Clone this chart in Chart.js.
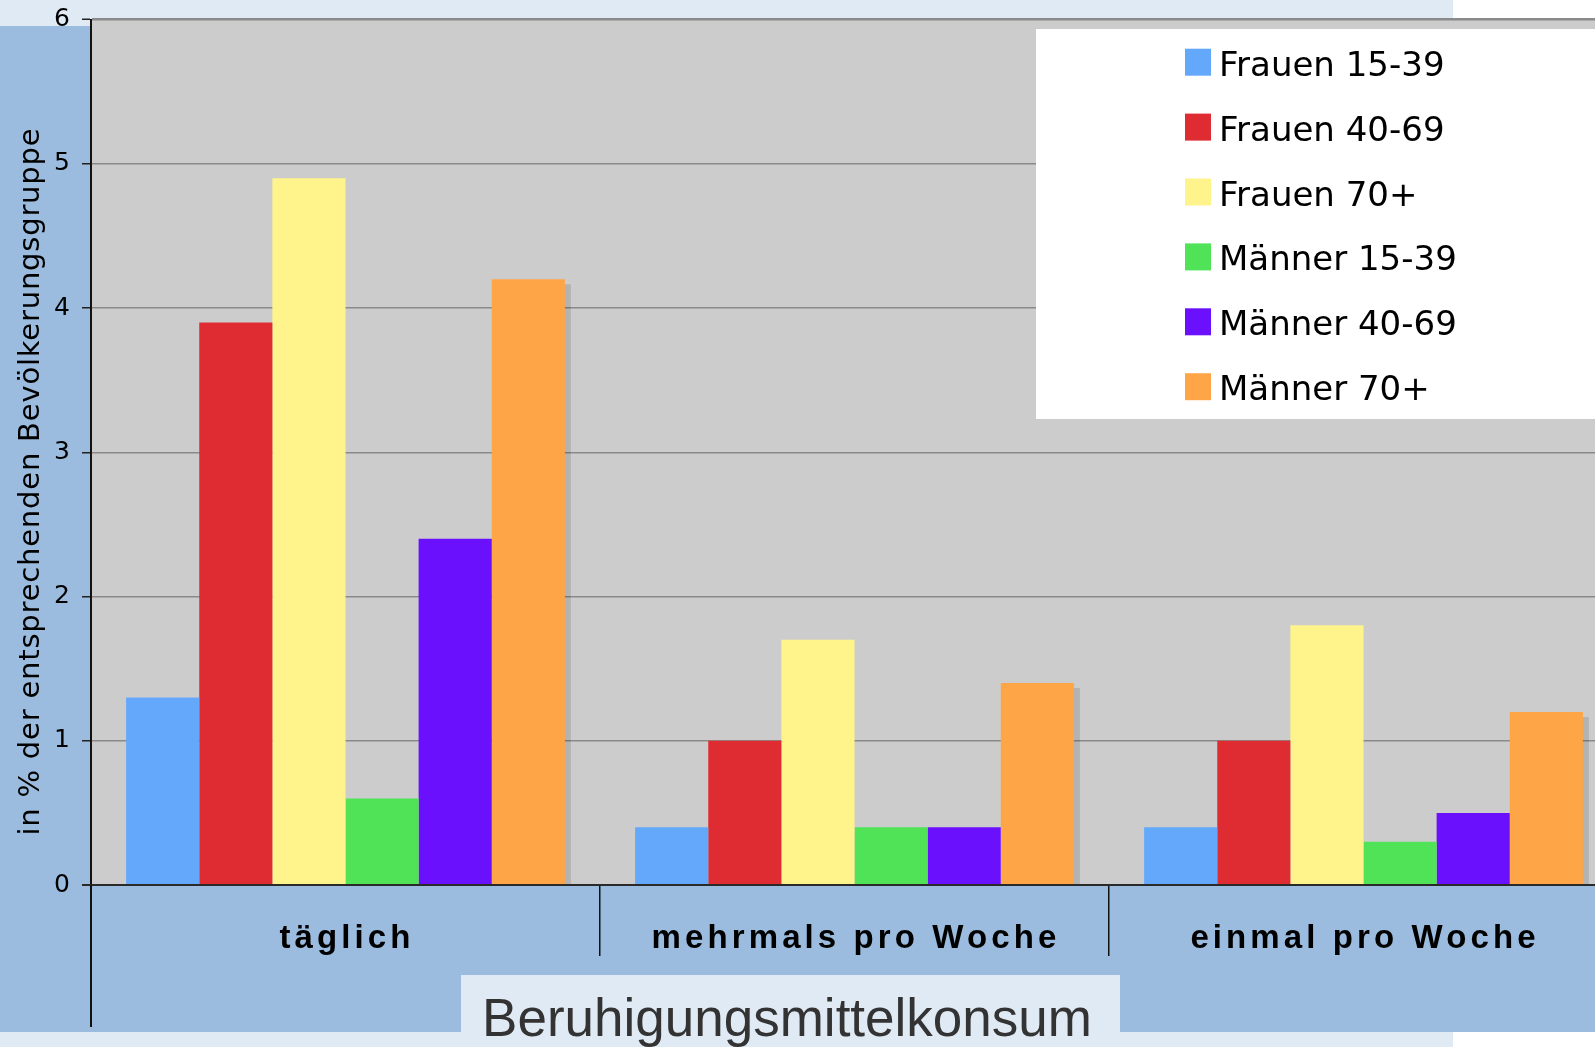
<!DOCTYPE html>
<html>
<head>
<meta charset="utf-8">
<script src="https://cdn.jsdelivr.net/npm/chart.js@4.4.1/dist/chart.umd.min.js"></script>
<style>
html, body { margin: 0; padding: 0; overflow: hidden; background: #fff; }
#wrap { width: 1595px; height: 1047px; overflow: hidden; position: relative; }
canvas { display: block; }
</style>
</head>
<body>
<div id="wrap"><canvas id="chart" width="1626" height="1047"></canvas></div>
<script>
var categories = ['täglich', 'mehrmals pro Woche', 'einmal pro Woche']
var seriesLabels = ['Frauen 15-39', 'Frauen 40-69', 'Frauen 70+', 'Männer 15-39', 'Männer 40-69', 'Männer 70+']
var frauen1539 = [1.3, 0.4, 0.4]
var frauen4069 = [3.9, 1.0, 1.0]
var frauen70 = [4.9, 1.7, 1.8]
var maenner1539 = [0.6, 0.4, 0.3]
var maenner4069 = [2.4, 0.4, 0.5]
var maenner70 = [4.2, 1.4, 1.2]
var yTicks = [0, 1, 2, 3, 4, 5, 6]
var yTitle = 'in % der entsprechenden Bevölkerungsgruppe'
var xTitle = 'Beruhigungsmittelkonsum'

var seriesValues = [frauen1539, frauen4069, frauen70, maenner1539, maenner4069, maenner70]
var seriesColors = ['#64a8fc', '#de2c32', '#fff38b', '#50e358', '#6b10fd', '#fea647']

var lightBg = '#e0eaf5'
var blueBg = '#9bbcde'
var plotBg = '#cccccc'

var datasets = seriesLabels.map((label, i) => ({
    label: label,
    data: seriesValues[i],
    backgroundColor: seriesColors[i],
    borderWidth: 0,
    clip: 0
}))

// backgrounds, zero line, legend box and the text around the plot
const backdrop = {
    id: 'backdrop',
    beforeDraw(chart) {
        let ctx = chart.ctx, a = chart.chartArea, w = chart.width
        ctx.save()
        ctx.fillStyle = '#fff'
        ctx.fillRect(0, 0, w, chart.height)
        ctx.fillStyle = lightBg
        ctx.fillRect(0, 0, 1453, 26)
        ctx.fillRect(0, 1032, 1453, 15)
        ctx.fillStyle = blueBg
        ctx.fillRect(0, 26, w, 1006)
        ctx.fillStyle = lightBg
        ctx.fillRect(461, 975, 659, 72)
        ctx.fillStyle = plotBg
        ctx.fillRect(a.left, a.top, a.right - a.left, a.bottom - a.top)
        ctx.restore()
    },
    beforeDatasetDraw(chart, args) {
        if (args.index !== chart.data.datasets.length - 1) return
        let ctx = chart.ctx
        ctx.save()
        ctx.shadowColor = 'rgba(0,0,0,0.12)'
        ctx.shadowOffsetX = 6
        ctx.shadowOffsetY = 5
        ctx.shadowBlur = 0
    },
    afterDatasetDraw(chart, args) {
        if (args.index !== chart.data.datasets.length - 1) return
        chart.ctx.restore()
    },
    afterDatasetsDraw(chart) {
        let ctx = chart.ctx, a = chart.chartArea
        let y0 = chart.scales.y.getPixelForValue(0)
        ctx.save()
        ctx.strokeStyle = '#2a2a2a'
        ctx.lineWidth = 2
        ctx.beginPath()
        ctx.moveTo(a.left - 9, y0)
        ctx.lineTo(a.right, y0)
        ctx.stroke()
        ctx.strokeStyle = '#111'
        ctx.beginPath()
        ctx.moveTo(a.left, a.bottom)
        ctx.lineTo(a.left, 1027)
        ctx.stroke()
        ctx.restore()
    },
    afterDraw(chart) {
        let ctx = chart.ctx, xs = chart.scales.x
        ctx.save()

        // legend
        ctx.fillStyle = '#fff'
        ctx.fillRect(1036, 29, chart.width - 1036, 390)
        ctx.font = '34px "DejaVu Sans"'
        ctx.textAlign = 'left'
        ctx.textBaseline = 'alphabetic'
        chart.data.datasets.forEach((ds, i) => {
            let base = 75.7 + i * 64.9
            ctx.fillStyle = ds.backgroundColor
            ctx.fillRect(1185, base - 27, 26, 27)
            ctx.fillStyle = '#000'
            ctx.fillText(ds.label, 1219, base)
        })

        // category labels
        ctx.font = 'bold 33px "Liberation Sans"'
        ctx.textAlign = 'center'
        ctx.fillStyle = '#000'
        if ('letterSpacing' in ctx) ctx.letterSpacing = '4.1px'
        chart.data.labels.forEach((lab, i) => {
            ctx.fillText(lab, xs.getPixelForValue(i) + 1.5, 948)
        })

        // y title
        ctx.font = '29px "DejaVu Sans"'
        if ('letterSpacing' in ctx) ctx.letterSpacing = '0.8px'
        ctx.save()
        ctx.translate(38.5, 482)
        ctx.rotate(-Math.PI / 2)
        ctx.fillText(yTitle, 0.4, 0)
        ctx.restore()

        // x title
        if ('letterSpacing' in ctx) ctx.letterSpacing = '0px'
        ctx.font = '53px "Liberation Sans"'
        ctx.fillStyle = '#333'
        ctx.fillText(xTitle, 787, 1036)
        ctx.restore()
    }
}

const config = {
    type: 'bar',
    data: { labels: categories, datasets: datasets },
    options: {
        responsive: false,
        animation: false,
        devicePixelRatio: 1,
        layout: { padding: { top: 19.5, right: 8, left: 0, bottom: 0 } },
        datasets: {
            bar: { categoryPercentage: 0.862, barPercentage: 1.0 }
        },
        scales: {
            x: {
                ticks: { display: false },
                grid: {
                    offset: true,
                    drawOnChartArea: false,
                    drawTicks: true,
                    tickLength: 71,
                    color: '#111',
                    lineWidth: 1.5
                },
                border: { display: false },
                afterFit(scale) {
                    scale.height = 162
                    scale.paddingLeft = 0
                    scale.paddingRight = 0
                }
            },
            y: {
                min: yTicks[0],
                max: yTicks[yTicks.length - 1],
                ticks: {
                    stepSize: yTicks[1] - yTicks[0],
                    padding: 12,
                    color: '#000',
                    font: { family: 'DejaVu Sans', size: 25 }
                },
                grid: {
                    color: (c) => c.tick && c.tick.value === 0 ? 'rgba(0,0,0,0)' : '#8a8a8a',
                    lineWidth: (c) => c.tick && c.tick.value === yTicks[yTicks.length - 1] ? 2.5 : 1.5,
                    tickColor: '#222',
                    tickWidth: 1.5,
                    tickLength: 9
                },
                border: { display: true, color: '#111', width: 2 },
                afterFit(scale) {
                    scale.width = 91
                    scale.paddingTop = 0
                    scale.paddingBottom = 0
                }
            }
        },
        plugins: {
            legend: { display: false },
            tooltip: { enabled: false },
            title: { display: false }
        }
    },
    plugins: [backdrop]
}

new Chart(document.getElementById('chart'), config)
</script>
</body>
</html>
